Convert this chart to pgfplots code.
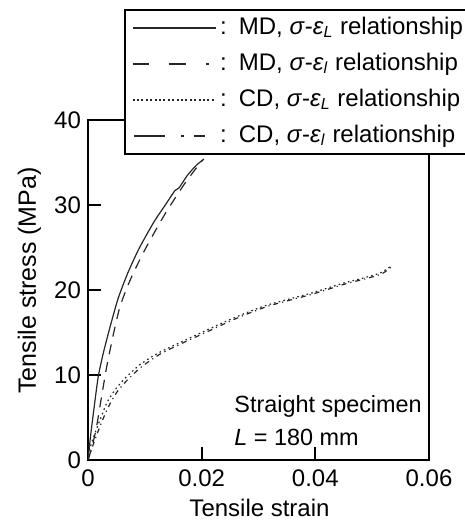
\documentclass[border=0pt]{standalone}
\usepackage{fontspec}
\setmainfont{Liberation Sans}
\usepackage{pgfplots}
\pgfplotsset{compat=1.18}
\pgfplotsset{
  mdlleg/.style={legend image code/.code={\draw[##1,solid] (0pt,0pt) -- (8pt,0pt) (18pt,0pt) -- (26.5pt,0pt) (36.5pt,0pt) -- (38pt,0pt);}},
  cdLleg/.style={legend image code/.code={\draw[##1,dash pattern=on 1pt off 1.2pt] (0pt,0pt) -- (41.5pt,0pt);}},
  cdlleg/.style={legend image code/.code={\draw[##1,solid] (0.5pt,0pt) -- (16.3pt,0pt) (24.3pt,0pt) -- (25.5pt,0pt) (30.5pt,0pt) -- (36.3pt,0pt);}},
}
\begin{document}
\begin{tikzpicture}
\useasboundingbox (-44pt,-30.5pt) rectangle (188.5pt,230pt);
\begin{axis}[
  scale only axis, width=170.5pt, height=170pt,
  xmin=0, xmax=0.06, ymin=0, ymax=40,
  xtick={0,0.02,0.04,0.06}, xticklabels={0,0.02,0.04,0.06},
  scaled x ticks=false,
  ytick={0,10,20,30,40},
  tick align=inside, xtick pos=bottom, ytick pos=left,
  major tick length=6.5pt,
  axis line style={line width=1pt},
  tick style={line width=1pt, black},
  font=\fontsize{12}{14.4}\selectfont,
  ticklabel style={font=\fontsize{12}{14.4}\selectfont},
  xticklabel style={yshift=-1.5pt},
  /pgf/number format/assume math mode=true,
  xlabel={Tensile strain},
  xlabel style={at={(axis description cs:0.503,0)}, anchor=base, yshift=-28.3pt},
  ylabel={Tensile stress (MPa)},
  ylabel style={at={([xshift=-26pt]axis description cs:0,0.528)}, anchor=base, font=\fontsize{12.5}{15}\selectfont},
  legend style={at={(rel axis cs:0.1056,1.3265)}, anchor=north west,
    draw=black, line width=1pt, fill=white,
    font=\fontsize{12}{14.4}\selectfont,
    inner xsep=3.5pt, inner ysep=0pt, row sep=0pt,
    nodes={inner sep=2pt, text height=10pt, text depth=4pt}},
  legend cell align=left,
  legend image code/.code={\draw[#1] (0pt,0pt) -- (41.5pt,0pt);},
]
\addplot[black!85, line width=0.6pt, smooth, tension=0.4] coordinates {
(0,0) (0.0005,3.1) (0.0011,6.3) (0.0018,9.8) (0.0027,12.6) (0.0039,15.7) (0.0053,19.0) (0.0070,22.0) (0.0090,24.9) (0.0116,28.0) (0.0136,30) (0.0153,31.7) (0.0160,32.0) (0.0175,33.5) (0.0191,34.7) (0.0204,35.4)
};
\addlegendentry{:\hspace{0.5em}MD, \textit{σ}-\textit{ε}\textsubscript{\textit{L}} relationship}
\addplot[black!85, line width=0.6pt, dash pattern=on 5pt off 4pt, mdlleg, smooth, tension=0.4] coordinates {
(0,0) (0.0007,1.5) (0.0015,3.9) (0.0024,7.5) (0.0033,11) (0.0045,14.9) (0.0057,18.2) (0.0077,21.6) (0.0103,25.1) (0.0136,29) (0.0171,32.6) (0.0197,34.9) (0.0202,35.3)
};
\addlegendentry{:\hspace{0.5em}MD, \textit{σ}-\textit{ε}\textsubscript{\textit{l}} relationship}
\addplot[black!85, line width=0.6pt, dash pattern=on 0.8pt off 1.6pt, cdLleg, smooth, tension=0.4] coordinates {
(0,0) (0.0004,1.5) (0.0012,3.1) (0.0021,4.7) (0.0033,6.7) (0.0047,8.2) (0.0065,9.6) (0.0091,11.2) (0.0124,12.6) (0.0171,14.1) (0.0203,15.1) (0.0256,16.7) (0.0314,18.2) (0.0391,19.6) (0.0449,20.8) (0.0484,21.4) (0.0514,22.0) (0.0531,22.7)
};
\addlegendentry{:\hspace{0.5em}CD, \textit{σ}-\textit{ε}\textsubscript{\textit{L}} relationship}
\addplot[black!85, line width=0.6pt, dash pattern=on 2.5pt off 2pt on 0.6pt off 2pt, cdlleg, smooth, tension=0.4] coordinates {
(0,0) (0.0006,1.2) (0.0015,2.9) (0.0025,4.6) (0.0037,6.4) (0.0051,8.0) (0.0069,9.4) (0.0095,11.0) (0.0128,12.5) (0.0174,14.0) (0.0207,15.0) (0.0259,16.6) (0.0317,18.1) (0.0394,19.5) (0.0452,20.7) (0.0487,21.3) (0.0517,21.9) (0.0535,22.8)
};
\addlegendentry{:\hspace{0.5em}CD, \textit{σ}-\textit{ε}\textsubscript{\textit{l}} relationship}
\node[anchor=base west, inner sep=0pt, font=\fontsize{11.7}{14}\selectfont] at (axis cs:0.0257,5.56) {Straight specimen};
\node[anchor=base west, inner sep=0pt, font=\fontsize{11.7}{14}\selectfont] at (axis cs:0.0257,1.76) {\textit{L} = 180 mm};
\end{axis}
\end{tikzpicture}
\end{document}
